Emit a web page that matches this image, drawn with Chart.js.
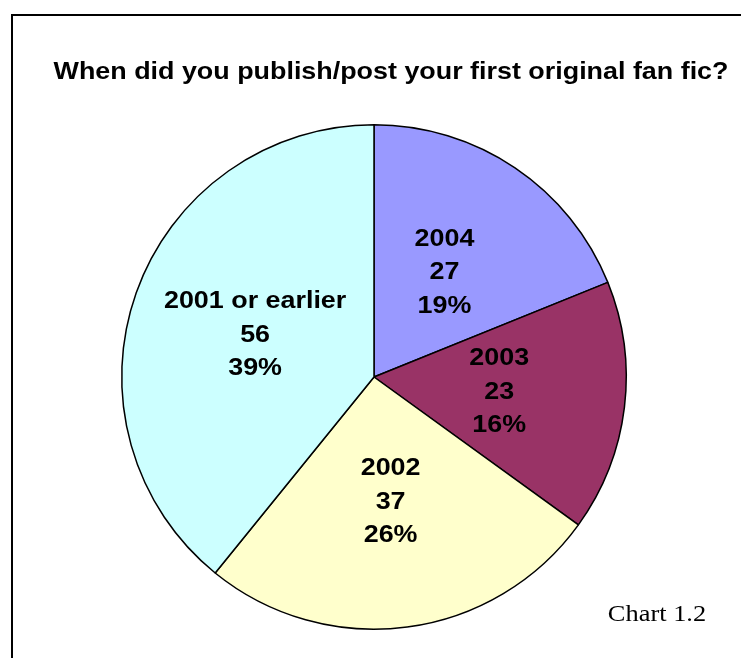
<!DOCTYPE html>
<html>
<head>
<meta charset="utf-8">
<script src="https://cdn.jsdelivr.net/npm/chart.js@4"></script>
<style>
  html, body { margin: 0; padding: 0; background: #fff; }
  #wrap { position: relative; width: 741px; height: 658px; overflow: hidden; }
  #frame { position: absolute; left: 11px; top: 14px; width: 760px; height: 700px; border: 2px solid #000; box-sizing: border-box; }
  canvas { position: absolute; left: 0; top: 0; }
</style>
</head>
<body>
<div id="wrap">
  <div id="frame"></div>
  <canvas id="pie" width="741" height="658"></canvas>
</div>
<script>
const labels = ["2004", "2003", "2002", "2001 or earlier"];
const counts = [27, 23, 37, 56];
const colors = ["#9999FF", "#993366", "#FFFFCC", "#CCFFFF"];
const title = "When did you publish/post your first original fan fic?";
const note = "Chart 1.2";

const total = counts.reduce((a, b) => a + b, 0);

// text is a little wider than normal in the original, so stretch it
function wideText(ctx, t, x, y, sx) {
  ctx.save();
  ctx.translate(x, y);
  ctx.scale(sx, 1);
  ctx.fillText(t, 0, 0);
  ctx.restore();
}

const textPlugin = {
  id: "texts",
  afterDatasetsDraw(chart) {
    const ctx = chart.ctx;
    ctx.save();
    ctx.fillStyle = "#000";
    ctx.textAlign = "center";
    ctx.textBaseline = "middle";
    ctx.font = "bold 24px 'Liberation Sans', Arial, sans-serif";
    wideText(ctx, title, 391, 72, 1.12);

    ctx.font = "bold 24px 'Liberation Sans', Arial, sans-serif";
    chart.getDatasetMeta(0).data.forEach((arc, i) => {
      const p = arc.tooltipPosition();
      const pct = Math.round(counts[i] / total * 100) + "%";
      const lines = [labels[i], String(counts[i]), pct];
      lines.forEach((t, k) => wideText(ctx, t, p.x, p.y + (k - 1) * 33.5, 1.12));
    });

    ctx.font = "24px 'Liberation Serif', 'Times New Roman', serif";
    wideText(ctx, note, 657, 615, 1.1);
    ctx.restore();
  }
};

new Chart(document.getElementById("pie"), {
  type: "pie",
  data: {
    labels: labels,
    datasets: [{
      data: counts,
      backgroundColor: colors,
      borderColor: "#000",
      borderWidth: 1.5
    }]
  },
  options: {
    responsive: false,
    animation: false,
    layout: { padding: { left: 121, right: 114, top: 124, bottom: 28 } },
    plugins: {
      legend: { display: false },
      tooltip: { enabled: false }
    }
  },
  plugins: [textPlugin]
});
</script>
</body>
</html>
